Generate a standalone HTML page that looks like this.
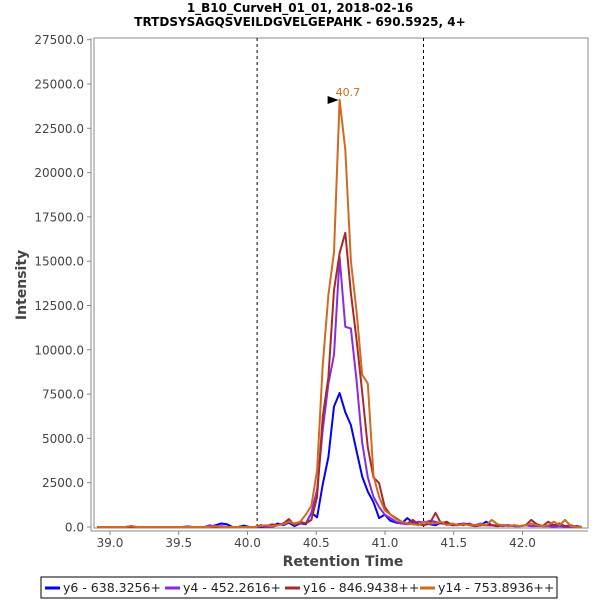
<!DOCTYPE html>
<html><head><meta charset="utf-8"><style>
body{margin:0;background:#fff;}
svg{font-family:"DejaVu Sans","Liberation Sans",sans-serif;}
</style></head><body>
<svg id="chart" width="600" height="600" xmlns="http://www.w3.org/2000/svg">
<rect width="600" height="600" fill="#fff"/>
<text x="300" y="12" text-anchor="middle" font-size="12" font-weight="bold" fill="#000">1_B10_CurveH_01_01, 2018-02-16</text>
<text x="300" y="26" text-anchor="middle" font-size="12" font-weight="bold" fill="#000">TRTDSYSAGQSVEILDGVELGEPAHK - 690.5925, 4+</text>
<rect x="94" y="38" width="494" height="490" fill="#fff" stroke="#888"/>
<g id="yticks"></g><g id="xticks"></g>
<g id="series"></g>
<line x1="91" y1="38" x2="91" y2="531" stroke="#888"/>
<line x1="91" y1="531" x2="588" y2="531" stroke="#888"/>
<text x="343" y="566" text-anchor="middle" font-size="14" font-weight="bold" fill="#444">Retention Time</text>
<text transform="translate(26,285) rotate(-90)" text-anchor="middle" font-size="14" font-weight="bold" fill="#444">Intensity</text>
<g>
<rect x="41" y="577" width="516" height="21" fill="#fff" stroke="#000"/>
<line x1="45" y1="588" x2="60" y2="588" stroke="#0000ff" stroke-width="3"/>
<text x="63" y="592" font-size="12.5" fill="#222">y6 - 638.3256+</text>
<line x1="165" y1="588" x2="180" y2="588" stroke="#8a2be2" stroke-width="3"/>
<text x="183" y="592" font-size="12.5" fill="#222">y4 - 452.2616+</text>
<line x1="285" y1="588" x2="300" y2="588" stroke="#a52a2a" stroke-width="3"/>
<text x="303" y="592" font-size="12.5" fill="#222">y16 - 846.9438++</text>
<line x1="420" y1="588" x2="435" y2="588" stroke="#d2691e" stroke-width="3"/>
<text x="438" y="592" font-size="12.5" fill="#222">y14 - 753.8936++</text>
</g>
</svg>
<script>
const xTicks=[39.0,39.5,40.0,40.5,41.0,41.5,42.0];
const yTicks=[0,2500,5000,7500,10000,12500,15000,17500,20000,22500,25000,27500];
const markers=[40.07,41.28];
const t0=40.67, step=0.041, k0=43;
const y6=[0,0,0,0,0,0,50,0,0,0, 0,0,0,0,0,0,30,0,0,0, 0,100,200,150,0,0,80,0,0,0, 0,50,200,100,250,50,200,150,800,550, 2400,3950,6800,7560,6480,5750,4300,2850,2000,1400, 500,700,350,250,200,500,250,100,300,150, 100,250,200,100,150,200,100,50,100,300, 100,50,100,100,50,50,100,50,150,50, 50,100,50,50,0,50,0];
const y4=[0,0,0,0,0,0,0,0,0,0, 0,0,0,0,0,0,0,0,0,0, 100,0,50,0,0,0,0,0,0,50, 0,0,100,150,300,150,200,200,800,2100, 5470,8100,9700,15230,11300,11200,8300,4750,2800,1700, 1130,700,500,300,200,150,200,300,250,350, 300,200,150,100,100,200,150,100,200,100, 100,100,50,100,50,50,100,50,50,50, 50,0,50,0,0,0,0];
const y16=[0,0,0,0,0,0,0,0,0,0, 0,0,0,0,0,0,0,0,0,0, 0,0,0,0,0,0,0,0,0,100, 50,150,100,200,450,100,300,200,400,1700, 6200,8460,13370,15450,16600,13200,10600,7600,4500,2800, 2480,1130,700,500,300,200,400,150,100,200, 800,200,300,100,150,100,200,50,100,100, 100,50,100,50,100,50,100,400,150,50, 300,100,200,50,100,0,0];
const y14=[0,0,0,0,0,0,50,0,0,0, 0,0,0,0,0,0,0,0,0,0, 0,50,0,0,0,0,0,0,0,50, 100,50,100,150,300,200,300,700,1200,3200, 9100,13100,15500,24100,21300,15000,12200,8600,8100,2900, 1700,950,700,450,300,200,150,100,300,200, 200,300,100,200,100,150,100,100,150,100, 400,150,100,50,100,50,100,200,100,50, 100,300,100,400,50,0,0];
const peakTime=40.67, peakValue=24100, peakLabel="40.7";
const NS="http://www.w3.org/2000/svg";
function X(v){return 110+137.5*(v-39);}
function Y(v){return 527-v/2500*44.3;}
function mk(tag,attrs,parent){const e=document.createElementNS(NS,tag);for(const k in attrs)e.setAttribute(k,attrs[k]);parent.appendChild(e);return e;}
const yg=document.getElementById('yticks'), xg=document.getElementById('xticks'), sg=document.getElementById('series');
yTicks.forEach(v=>{
  const l=mk('line',{x1:87,x2:91,y1:Y(v),y2:Y(v),stroke:'#888'},yg);
  
  
  const t=mk('text',{x:84,y:Y(v)+4.5,'text-anchor':'end','font-size':12,fill:'#444'},yg);
  
  
  t.textContent=v.toFixed(1);
});
xTicks.forEach(v=>{
  const l=mk('line',{x1:X(v),x2:X(v),y1:531,y2:535,stroke:'#888'},xg);
  
  
  const t=mk('text',{x:X(v),y:547,'text-anchor':'middle','font-size':12,fill:'#444'},xg);
  
  
  t.textContent=v.toFixed(1);
});
markers.forEach(v=>{
  const l=mk('line',{x1:X(v),x2:X(v),y1:38,y2:528,stroke:'#000','stroke-dasharray':'3,3'},sg);
  
  
});
const series=[[y6,'#0000ff','series-y6'],[y4,'#8a2be2','series-y4'],[y16,'#a52a2a','series-y16'],[y14,'#d2691e','series-y14']];
series.forEach(([arr,col,name])=>{
  const pts=arr.map((v,i)=>{const t=t0+(i-k0)*step;return X(t).toFixed(1)+','+Y(v).toFixed(1);}).join(' ');
  const p=mk('polyline',{points:pts,fill:'none',stroke:col,'stroke-width':2,'stroke-linejoin':'round'},sg);
  
  
});
const px=X(peakTime), py=Y(peakValue);
const tri=mk('polygon',{points:(px-12)+','+(py-4)+' '+(px-1)+','+py+' '+(px-12)+','+(py+4),fill:'#000'},sg);


const pl=mk('text',{x:px-4,y:py-4,'font-size':11,fill:'#d2691e'},sg);


pl.textContent=peakLabel;
</script>
</body></html>
